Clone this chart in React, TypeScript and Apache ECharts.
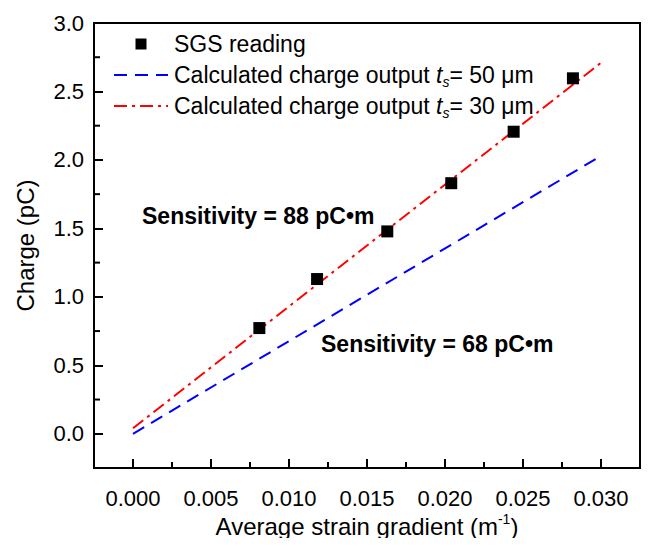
import React, { useEffect, useRef } from "react";
import * as echarts from "echarts";

// SGS reading (measured)
const sgsStrain = [0.0081, 0.0118, 0.0163, 0.0204, 0.0244, 0.0282];
const sgsCharge = [0.772, 1.13, 1.478, 1.83, 2.206, 2.596];

// Calculated charge output lines (endpoints)
const calc50Strain = [0.0, 0.03];
const calc50Charge = [0.0, 2.03];
const calc30Strain = [0.0, 0.03];
const calc30Charge = [0.04, 2.71];

// tick values
const xMajor = [0, 0.005, 0.01, 0.015, 0.02, 0.025, 0.03];
const xMinor = [0.0025, 0.0075, 0.0125, 0.0175, 0.0225, 0.0275];
const yMajor = [0, 0.5, 1.0, 1.5, 2.0, 2.5, 3.0];
const yMinor = [0.25, 0.75, 1.25, 1.75, 2.25, 2.75];

const X_MIN = -0.0025;
const X_MAX = 0.0325;
const Y_MIN = -0.25;
const Y_MAX = 3.0;

const NAME_SGS = "SGS reading";
const NAME_50 = "Calculated charge output ts = 50 μm";
const NAME_30 = "Calculated charge output ts = 30 μm";

const FONT = "'Liberation Sans', Arial, sans-serif";

export default function App() {
  const ref = useRef<HTMLDivElement>(null);
  useEffect(() => {
    if (!ref.current) return;
    const chart = echarts.init(ref.current, null, { renderer: "svg" });
    const pair = (xs: number[], ys: number[]) => xs.map((x, i) => [x, ys[i]]);
    const MINOR_LEN = 6;
    chart.setOption({
      animation: false,
      textStyle: { fontFamily: FONT, color: "#000" },
      grid: {
        left: 94,
        right: 9,
        top: 23,
        bottom: 78,
        show: true,
        borderColor: "#000",
        borderWidth: 2,
      },
      legend: {
        orient: "vertical",
        left: 108,
        top: 25,
        itemWidth: 54,
        itemHeight: 11,
        itemGap: 3,
        symbolKeepAspect: true,
        data: [
          { name: NAME_SGS, icon: "path://M0,0H10V10H0Z" },
          { name: NAME_50, itemStyle: { opacity: 0 } },
          { name: NAME_30, itemStyle: { opacity: 0 } },
        ],
        formatter: (name: string) => {
          if (name === NAME_50) return "Calculated charge output {i|t}{sub|s}= 50 μm";
          if (name === NAME_30) return "Calculated charge output {i|t}{sub|s}= 30 μm";
          return name;
        },
        textStyle: {
          fontFamily: FONT,
          fontSize: 23,
          color: "#000",
          lineHeight: 28,
          padding: [0, 0, 0, 1],
          rich: {
            i: { fontFamily: FONT, fontSize: 23, fontStyle: "italic", color: "#000", lineHeight: 28 },
            sub: {
              fontFamily: FONT,
              fontSize: 14,
              fontStyle: "italic",
              color: "#000",
              lineHeight: 14,
              padding: [14, 0, 0, 0],
            },
          },
        },
      },
      xAxis: {
        type: "value",
        min: X_MIN,
        max: X_MAX,
        name: "Average strain gradient (m{sup|-1})",
        nameLocation: "middle",
        nameGap: 44,
        nameMoveOverlap: false,
        nameTextStyle: {
          fontFamily: FONT,
          fontSize: 24,
          color: "#000",
          rich: {
            sup: { fontFamily: FONT, fontSize: 14, color: "#000", padding: [0, 0, 14, 0] },
          },
        },
        axisLine: { show: true, onZero: false, lineStyle: { color: "#000", width: 2 } },
        axisTick: {
          show: true,
          inside: true,
          length: 9,
          lineStyle: { color: "#000", width: 2 },
          customValues: xMajor,
        },
        axisLabel: {
          customValues: xMajor,
          formatter: (v: number) => v.toFixed(3),
          fontFamily: FONT,
          fontSize: 22,
          color: "#000",
          margin: 19,
        },
        splitLine: { show: false },
      },
      yAxis: {
        type: "value",
        min: Y_MIN,
        max: Y_MAX,
        name: "Charge (pC)",
        nameLocation: "middle",
        nameGap: 57,
        nameMoveOverlap: false,
        nameRotate: 90,
        nameTextStyle: { fontFamily: FONT, fontSize: 24, color: "#000" },
        axisLine: { show: true, onZero: false, lineStyle: { color: "#000", width: 2 } },
        axisTick: {
          show: true,
          inside: true,
          length: 9,
          lineStyle: { color: "#000", width: 2 },
          customValues: yMajor,
        },
        axisLabel: {
          customValues: yMajor,
          formatter: (v: number) => v.toFixed(1),
          fontFamily: FONT,
          fontSize: 22,
          color: "#000",
          margin: 10,
        },
        splitLine: { show: false },
      },
      series: [
        {
          name: NAME_50,
          type: "line",
          data: pair(calc50Strain, calc50Charge),
          showSymbol: false,
          symbol: "none",
          lineStyle: { color: "#0000ff", width: 2, type: [13, 8] },
          itemStyle: { color: "#0000ff" },
          z: 2,
        },
        {
          name: NAME_30,
          type: "line",
          data: pair(calc30Strain, calc30Charge),
          showSymbol: false,
          symbol: "none",
          lineStyle: { color: "#ff0000", width: 2, type: [13, 5, 3, 5] },
          itemStyle: { color: "#ff0000" },
          z: 3,
        },
        {
          name: NAME_SGS,
          type: "scatter",
          data: pair(sgsStrain, sgsCharge),
          symbol: "rect",
          symbolSize: 12,
          itemStyle: { color: "#000", opacity: 1 },
          z: 4,
        },
        {
          // minor ticks on the x axis
          type: "custom",
          silent: true,
          clip: false,
          data: xMinor.map((v) => [v, Y_MIN]),
          renderItem: (params: any, api: any) => {
            const p = api.coord([api.value(0), api.value(1)]);
            return {
              type: "line",
              shape: { x1: p[0], y1: p[1], x2: p[0], y2: p[1] - MINOR_LEN },
              style: { stroke: "#000", lineWidth: 2 },
            };
          },
          z: 5,
        },
        {
          // minor ticks on the y axis
          type: "custom",
          silent: true,
          clip: false,
          data: yMinor.map((v) => [X_MIN, v]),
          renderItem: (params: any, api: any) => {
            const p = api.coord([api.value(0), api.value(1)]);
            return {
              type: "line",
              shape: { x1: p[0], y1: p[1], x2: p[0] + MINOR_LEN, y2: p[1] },
              style: { stroke: "#000", lineWidth: 2 },
            };
          },
          z: 5,
        },
      ],
      graphic: [
        {
          type: "text",
          left: 142,
          top: 204,
          style: {
            text: "Sensitivity = 88 pC•m",
            fontFamily: FONT,
            fontSize: 23,
            fontWeight: "bold",
            fill: "#000",
          },
        },
        {
          type: "text",
          left: 321,
          top: 332,
          style: {
            text: "Sensitivity = 68 pC•m",
            fontFamily: FONT,
            fontSize: 23,
            fontWeight: "bold",
            fill: "#000",
          },
        },
      ],
    });
    return () => chart.dispose();
  }, []);
  return <div ref={ref} style={{ width: 649, height: 546, margin: -8 }} />;
}
